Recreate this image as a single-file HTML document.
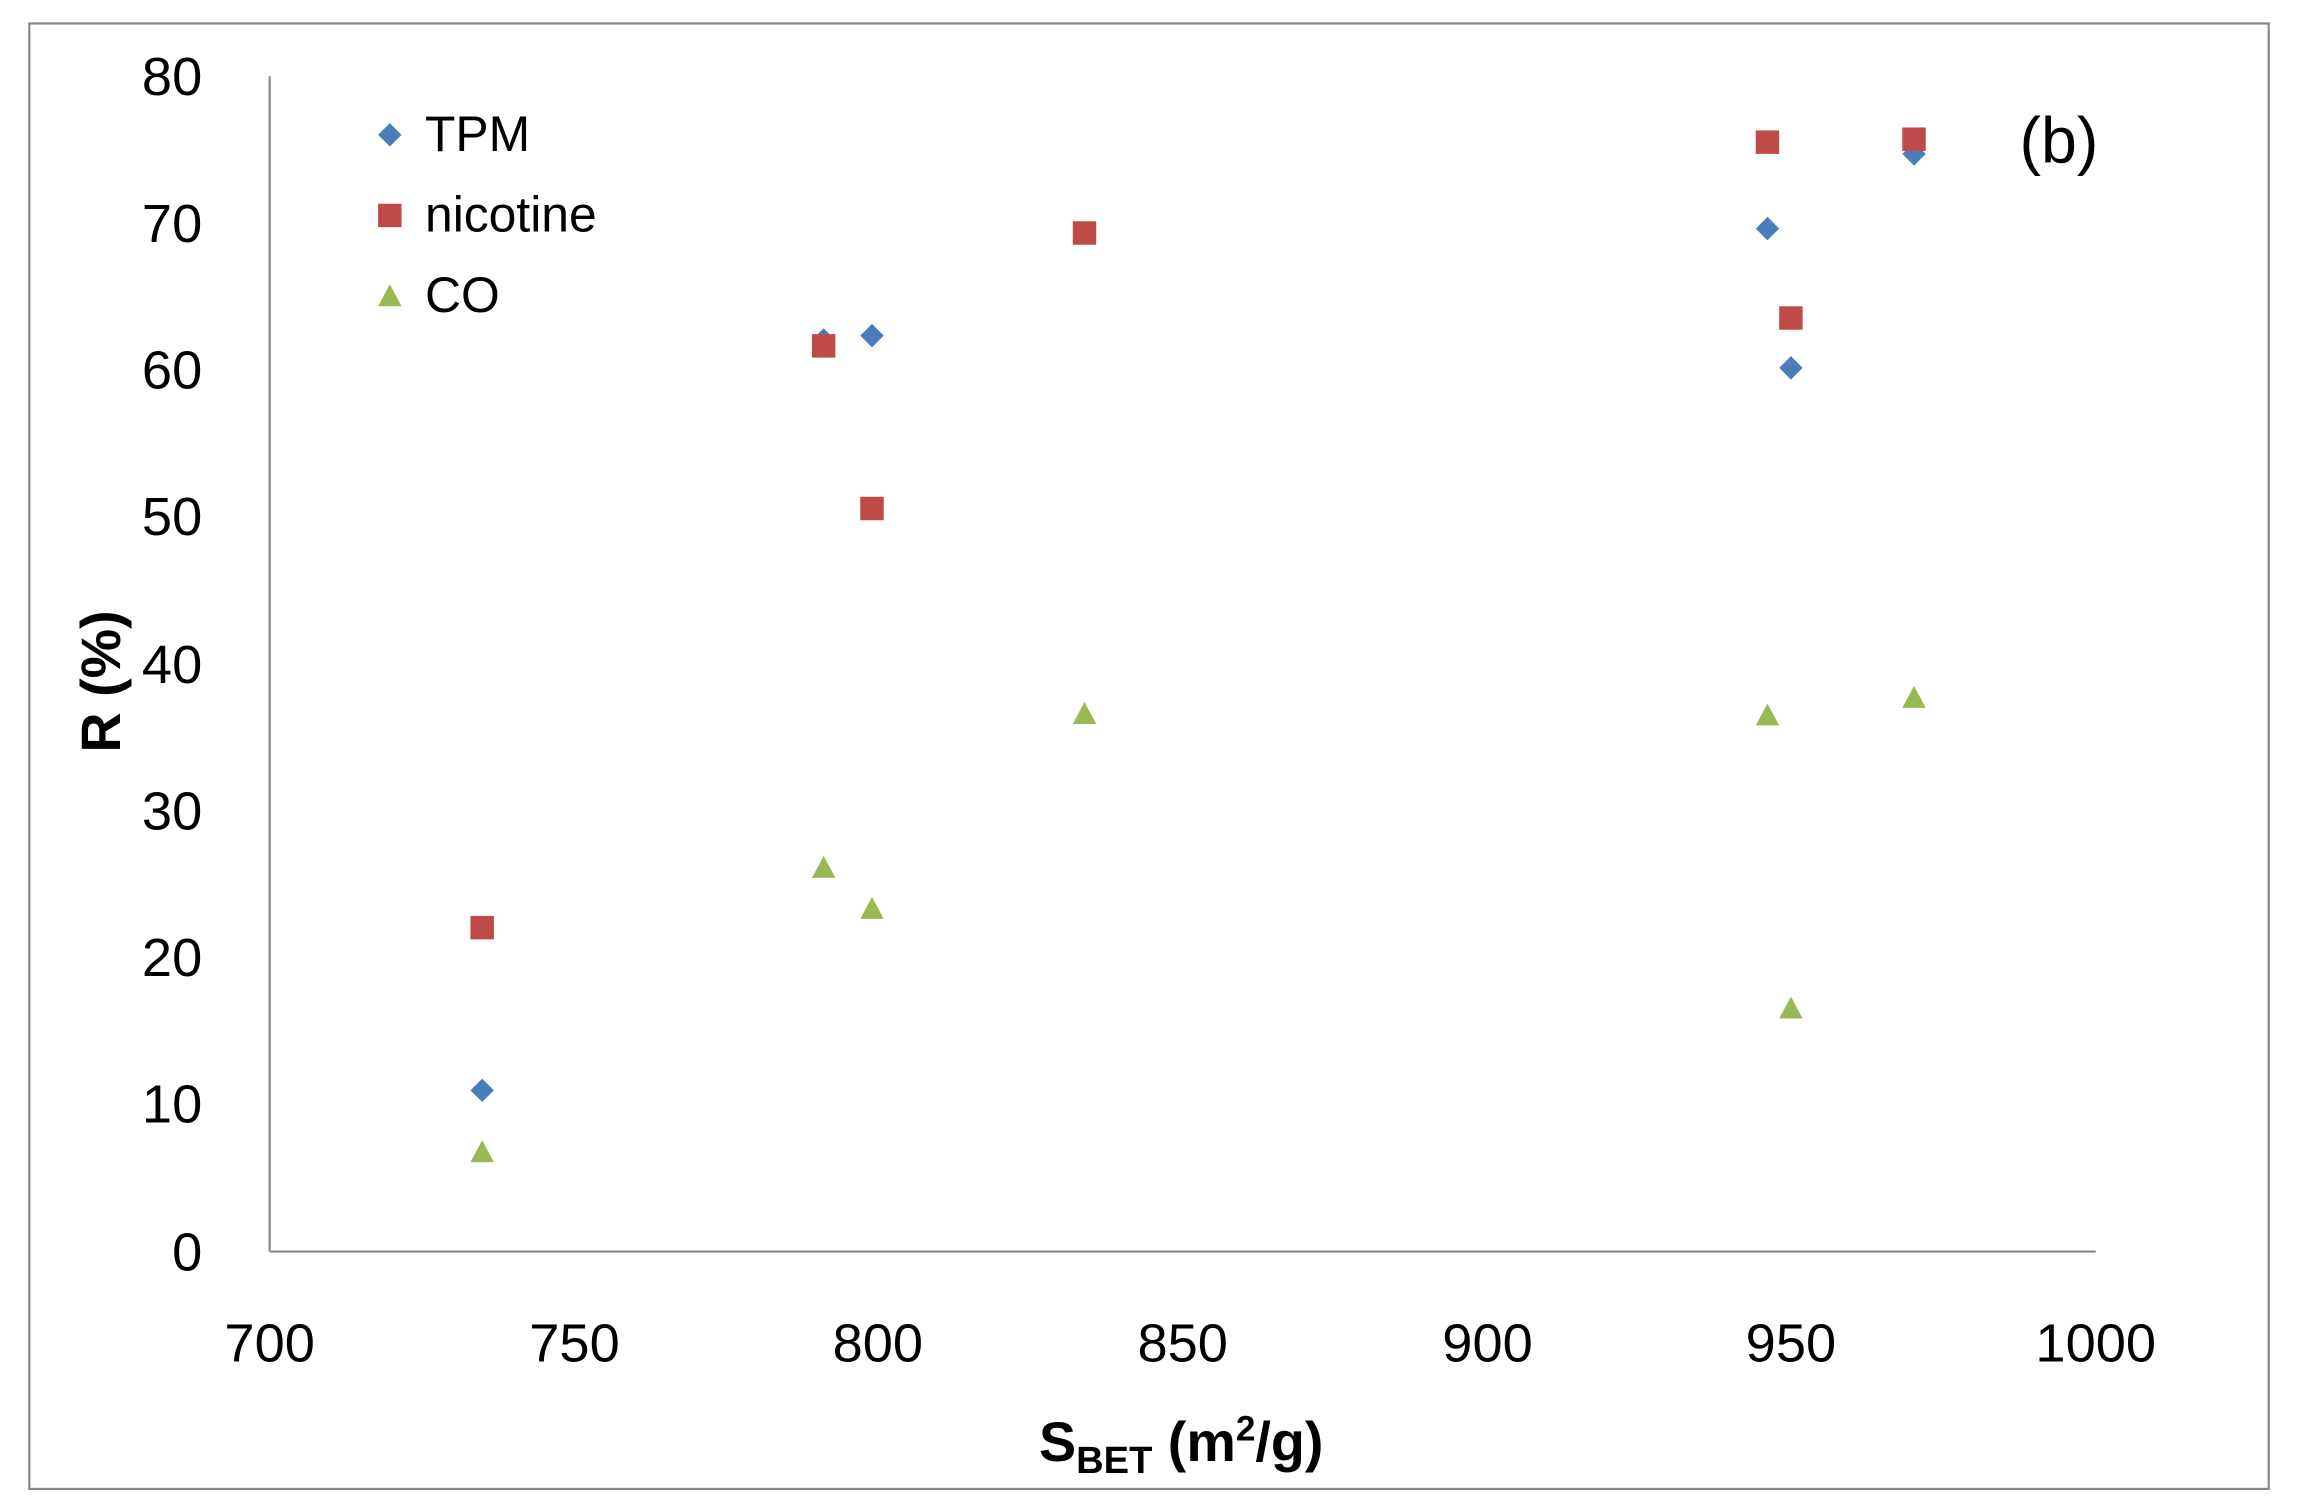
<!DOCTYPE html>
<html><head><meta charset="utf-8"><style>
html,body{margin:0;padding:0;background:#fff;}
svg{display:block;}
text{font-family:"Liberation Sans",sans-serif;fill:#000;}
</style></head><body>
<svg width="2298" height="1508" viewBox="0 0 1568 1029" preserveAspectRatio="none" xmlns="http://www.w3.org/2000/svg">
<rect x="0" y="0" width="1568" height="1029" fill="#fff"/>
<rect x="20" y="16" width="1528" height="1000" fill="#fff" stroke="#888" stroke-width="1.5"/>
<line x1="184" y1="52" x2="184" y2="854" stroke="#888" stroke-width="1.5"/>
<line x1="184" y1="854" x2="1430" y2="854" stroke="#888" stroke-width="1.5"/>
<g font-size="37" text-anchor="end">
<text x="138" y="867">0</text><text x="138" y="766">10</text><text x="138" y="666">20</text>
<text x="138" y="566">30</text><text x="138" y="466">40</text><text x="138" y="365">50</text>
<text x="138" y="265">60</text><text x="138" y="165">70</text><text x="138" y="65">80</text>
</g>
<g font-size="37" text-anchor="middle">
<text x="184" y="929">700</text><text x="392" y="929">750</text><text x="599" y="929">800</text>
<text x="807" y="929">850</text><text x="1015" y="929">900</text><text x="1222" y="929">950</text>
<text x="1430" y="929">1000</text>
</g>
<text transform="translate(82,465) rotate(-90)" font-size="38" font-weight="bold" text-anchor="middle">R (%)</text>
<text x="806" y="997" font-size="38" font-weight="bold" text-anchor="middle">S<tspan font-size="26" dy="8">BET</tspan><tspan dy="-8"> (m</tspan><tspan font-size="24" dy="-14">2</tspan><tspan dy="14">/g)</tspan></text>
<text x="1378" y="111" font-size="44">(b)</text>
<defs>
<path id="d" d="M0,-8 L8,0 L0,8 L-8,0Z" fill="#4a7ebb"/>
<rect id="s" x="-8" y="-8" width="16" height="16" fill="#be4b48"/>
<path id="t" d="M0,-8 L8,7 L-8,7Z" fill="#98b954"/>
</defs>
<use href="#d" x="266" y="92"/><text x="290" y="103" font-size="34">TPM</text>
<use href="#s" x="266" y="147"/><text x="290" y="158" font-size="34">nicotine</text>
<use href="#t" x="266" y="202"/><text x="290" y="213" font-size="34">CO</text>
<use href="#d" x="329" y="744"/><use href="#d" x="562" y="232"/><use href="#d" x="595" y="229"/>
<use href="#d" x="1206" y="156"/><use href="#d" x="1222" y="251"/><use href="#d" x="1306" y="105"/>
<use href="#s" x="329" y="633"/><use href="#s" x="562" y="236"/><use href="#s" x="595" y="347"/>
<use href="#s" x="740" y="159"/><use href="#s" x="1206" y="97"/><use href="#s" x="1222" y="217"/><use href="#s" x="1306" y="95"/>
<use href="#t" x="329" y="786"/><use href="#t" x="562" y="592"/><use href="#t" x="595" y="620"/>
<use href="#t" x="740" y="487"/><use href="#t" x="1206" y="488"/><use href="#t" x="1222" y="688"/><use href="#t" x="1306" y="476"/>
</svg>
</body></html>
